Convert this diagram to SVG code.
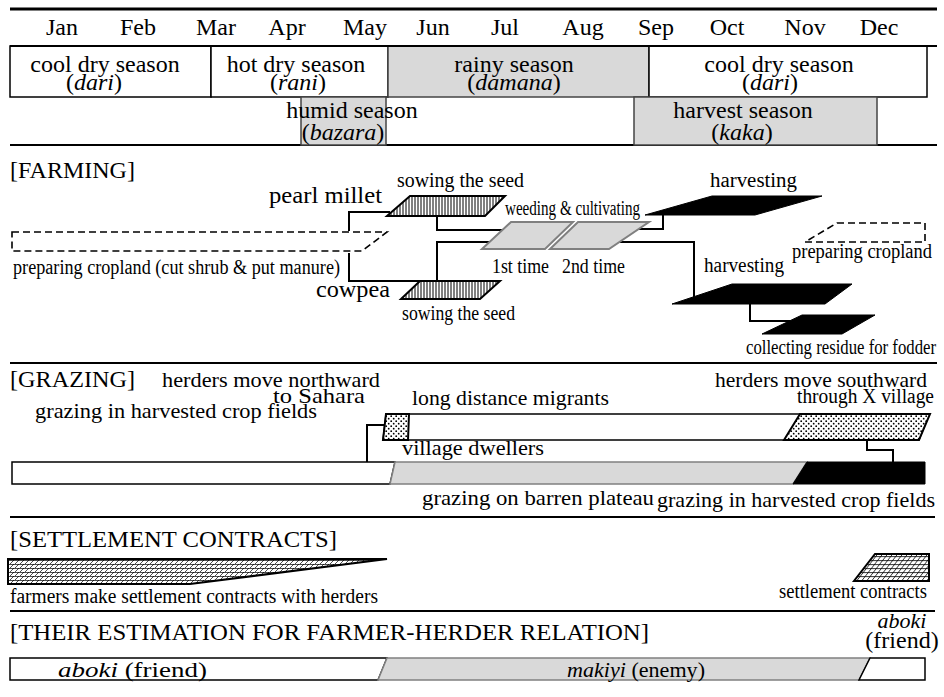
<svg xmlns="http://www.w3.org/2000/svg" width="944" height="697" viewBox="0 0 944 697">
<style>
text{font-family:"Liberation Serif","Times New Roman",serif;fill:#000}
.t24{font-size:24px}
.t22{font-size:22px}
.t20{font-size:20px}
.it{font-style:italic}
.mid{text-anchor:middle}
.box{fill:#fff;stroke:#000;stroke-width:1.5}
.gbox{fill:#d9d9d9;stroke:#444;stroke-width:1.5}
.sep{stroke:#000;stroke-width:2;fill:none}
.con{stroke:#000;stroke-width:2;fill:none}
.dash{fill:none;stroke:#000;stroke-width:1.6;stroke-dasharray:7 4}
.blk{fill:#000;stroke:#000;stroke-width:1}
.wg{fill:#d9d9d9;stroke:#808080;stroke-width:2}
</style>
<defs>
<pattern id="vhatch" width="3" height="10" patternUnits="userSpaceOnUse"><rect width="3" height="10" fill="#fff"/><line x1="1" y1="0" x2="1" y2="10" stroke="#000" stroke-width="1"/></pattern>
<pattern id="dots" width="5" height="5" patternUnits="userSpaceOnUse"><rect width="5" height="5" fill="#fff"/><circle cx="1.2" cy="1.2" r="0.9" fill="#000"/><circle cx="3.7" cy="3.7" r="0.9" fill="#000"/></pattern>
<pattern id="brick" width="5" height="4" patternUnits="userSpaceOnUse"><rect width="5" height="4" fill="#fff"/><line x1="0" y1="0.5" x2="5" y2="0.5" stroke="#000" stroke-width="0.7"/><line x1="-0.5" y1="4.5" x2="4.5" y2="-0.5" stroke="#000" stroke-width="0.7"/></pattern>
<pattern id="grid" width="5" height="4" patternUnits="userSpaceOnUse" patternTransform="skewX(-38)"><rect width="5" height="4" fill="#fff"/><line x1="0" y1="0.5" x2="5" y2="0.5" stroke="#000" stroke-width="0.8"/><line x1="0.5" y1="0" x2="0.5" y2="4" stroke="#000" stroke-width="0.8"/></pattern>
</defs>

<g id="frame">
<line class="sep" x1="10" y1="9" x2="937" y2="9" style="stroke-width:3"/>
<line class="sep" x1="10" y1="145" x2="937" y2="145"/>
<line class="sep" x1="10" y1="363" x2="937" y2="363"/>
<line class="sep" x1="10" y1="517" x2="935" y2="517"/>
<line class="sep" x1="10" y1="611" x2="935" y2="611"/>
</g>

<g id="months">
<text class="t24 mid" x="62" y="35">Jan</text>
<text class="t24 mid" x="138" y="35">Feb</text>
<text class="t24 mid" x="216" y="35">Mar</text>
<text class="t24 mid" x="287" y="35">Apr</text>
<text class="t24 mid" x="365" y="35">May</text>
<text class="t24 mid" x="433" y="35">Jun</text>
<text class="t24 mid" x="505" y="35">Jul</text>
<text class="t24 mid" x="583" y="35">Aug</text>
<text class="t24 mid" x="656" y="35">Sep</text>
<text class="t24 mid" x="727" y="35">Oct</text>
<text class="t24 mid" x="805" y="35">Nov</text>
<text class="t24 mid" x="879" y="35">Dec</text>
</g>

<g id="season-cool1">
<rect class="box" x="10" y="46" width="201" height="51"/>
<text class="t24 mid" x="105" y="72">cool dry season</text>
<text class="t24 mid" x="94" y="90">(<tspan class="it">dari</tspan>)</text>
</g>
<g id="season-hot">
<rect class="box" x="211" y="46" width="177" height="51"/>
<text class="t24 mid" x="296" y="72">hot dry season</text>
<text class="t24 mid" x="298" y="90">(<tspan class="it">rani</tspan>)</text>
</g>
<g id="season-rainy">
<rect class="gbox" x="388" y="46" width="261" height="51"/>
<text class="t24 mid" x="514" y="72">rainy season</text>
<text class="t24 mid" x="514" y="90">(<tspan class="it">damana</tspan>)</text>
</g>
<g id="season-cool2">
<rect class="box" x="649" y="46" width="278" height="51"/>
<text class="t24 mid" x="779" y="72">cool dry season</text>
<text class="t24 mid" x="770" y="90">(<tspan class="it">dari</tspan>)</text>
</g>
<g id="season-humid">
<rect class="gbox" x="301" y="97" width="85" height="48"/>
<text class="t24 mid" x="352" y="118">humid season</text>
<text class="t24 mid" x="343" y="140">(<tspan class="it">bazara</tspan>)</text>
</g>
<g id="season-harvest">
<rect class="gbox" x="634" y="97" width="243" height="48"/>
<text class="t24 mid" x="743" y="118">harvest season</text>
<text class="t24 mid" x="742" y="140">(<tspan class="it">kaka</tspan>)</text>
</g>
<line class="sep" x1="10" y1="46" x2="937" y2="46"/>

<g id="farming-title"><text class="t24" x="10" y="178">[FARMING]</text></g>

<g id="connectors">
<polyline class="con" points="349,231 349,212 390,212"/>
<polyline class="con" points="349,253 349,281 421,281"/>
<polyline class="con" points="437,216 437,230 503,230"/>
<polyline class="con" points="437,281 437,242 492,242"/>
<polyline class="con" points="637,229 663,229 663,215"/>
<polyline class="con" points="620,242 694,242 694,297"/>
<polyline class="con" points="750,304 750,321 790,321"/>
<polyline class="con" points="367,462 367,425 386,425"/>
<polyline class="con" points="867,440 867,450 893,450 893,462"/>
</g>

<g id="prep-left">
<polygon class="dash" points="12,232 387,232 362,251 12,251"/>
<text class="t20" x="13" y="274" textLength="327" lengthAdjust="spacingAndGlyphs">preparing  cropland (cut shrub &amp; put manure)</text>
</g>
<g id="pearl-millet">
<text class="t24" x="269" y="203" textLength="113" lengthAdjust="spacingAndGlyphs">pearl millet</text>
<polygon points="410,196 505,196 485,216 387,216" fill="url(#vhatch)" stroke="#000" stroke-width="2"/>
<text class="t20" x="397" y="187" textLength="127" lengthAdjust="spacingAndGlyphs">sowing the seed</text>
</g>
<g id="cowpea">
<text class="t24" x="316" y="297" textLength="74" lengthAdjust="spacingAndGlyphs">cowpea</text>
<polygon points="420,281 500,281 480,299 401,299" fill="url(#vhatch)" stroke="#000" stroke-width="2"/>
<text class="t20" x="402" y="320" textLength="113" lengthAdjust="spacingAndGlyphs">sowing the seed</text>
</g>
<g id="weeding">
<polygon class="wg" points="511,222 573,222 545,249 482,249"/>
<polygon class="wg" points="578,222 649,222 609,249 550,249"/>
<text class="t20" x="505" y="215" textLength="135" lengthAdjust="spacingAndGlyphs">weeding &amp; cultivating</text>
<text class="t20" x="492" y="273" textLength="57" lengthAdjust="spacingAndGlyphs">1st time</text>
<text class="t20" x="562" y="273" textLength="63" lengthAdjust="spacingAndGlyphs">2nd time</text>
</g>
<g id="harvest-millet">
<polygon class="blk" points="712,196 822,196 755,215 645,215"/>
<text class="t20" x="710" y="187" textLength="87" lengthAdjust="spacingAndGlyphs">harvesting</text>
</g>
<g id="harvest-cowpea">
<polygon class="blk" points="732,284 852,284 825,304 672,304"/>
<text class="t20" x="704" y="272" textLength="80" lengthAdjust="spacingAndGlyphs">harvesting</text>
</g>
<g id="residue">
<polygon class="blk" points="802,315 875,315 842,334 762,334"/>
<text class="t20" x="746" y="354" textLength="190" lengthAdjust="spacingAndGlyphs">collecting residue for fodder</text>
</g>
<g id="prep-right">
<polygon class="dash" points="837,223 925,223 925,242 805,242"/>
<text class="t20" x="792" y="258" textLength="140" lengthAdjust="spacingAndGlyphs">preparing  cropland</text>
</g>

<g id="grazing-title"><text class="t24" x="10" y="387" textLength="125" lengthAdjust="spacingAndGlyphs">[GRAZING]</text></g>
<g id="north-label">
<text class="t22" x="162" y="387" textLength="218" lengthAdjust="spacingAndGlyphs">herders move northward</text>
<text class="t22" x="273" y="403" textLength="92" lengthAdjust="spacingAndGlyphs">to Sahara</text>
<text class="t22" x="35" y="418" textLength="282" lengthAdjust="spacingAndGlyphs">grazing in harvested crop fields</text>
</g>
<g id="long-distance">
<polygon class="box" points="386,414 929,414 919,440 383,440"/>
<polygon points="386,414 409,414 408,440 383,440" fill="url(#dots)" stroke="#000" stroke-width="2"/>
<polygon points="800,414 930,414 919,440 784,440" fill="url(#dots)" stroke="#000" stroke-width="2"/>
<text class="t22" x="412" y="405" textLength="197" lengthAdjust="spacingAndGlyphs">long distance migrants</text>
<text class="t22" x="715" y="387" textLength="212" lengthAdjust="spacingAndGlyphs">herders move southward</text>
<text class="t20" x="797" y="403" textLength="137" lengthAdjust="spacingAndGlyphs">through X village</text>
</g>
<g id="village">
<polygon class="box" points="12,462 395,462 390,484 12,484"/>
<polygon points="395,462 807,462 793,484 390,484" fill="#d9d9d9" stroke="#808080" stroke-width="1.5"/>
<polygon class="blk" points="807,462 925,462 925,484 793,484"/>
<text class="t22" x="402" y="455" textLength="142" lengthAdjust="spacingAndGlyphs">village dwellers</text>
<text class="t22" x="422" y="505" textLength="232" lengthAdjust="spacingAndGlyphs">grazing on barren plateau</text>
<text class="t22" x="657" y="507" textLength="278" lengthAdjust="spacingAndGlyphs">grazing in harvested crop fields</text>
</g>

<g id="settlement-title"><text class="t24" x="10" y="547" textLength="327" lengthAdjust="spacingAndGlyphs">[SETTLEMENT CONTRACTS]</text></g>
<g id="settlement-left">
<polygon points="8,559 387,559 190,584 8,584" fill="url(#brick)" stroke="#000" stroke-width="2"/>
<text class="t20" x="10" y="603" textLength="368" lengthAdjust="spacingAndGlyphs">farmers make settlement contracts with herders</text>
</g>
<g id="settlement-right">
<polygon points="875,554 929,554 929,581 854,581" fill="url(#grid)" stroke="#000" stroke-width="2"/>
<text class="t20" x="779" y="598" textLength="148" lengthAdjust="spacingAndGlyphs">settlement contracts</text>
</g>

<g id="estimation-title"><text class="t24" x="10" y="640" textLength="639" lengthAdjust="spacingAndGlyphs">[THEIR ESTIMATION FOR FARMER-HERDER RELATION]</text></g>
<g id="relation">
<polygon class="box" points="10,658 387,658 378,680 10,680"/>
<polygon points="387,658 870,658 859,680 378,680" fill="#d9d9d9" stroke="#808080" stroke-width="1.5"/>
<polygon class="box" points="870,658 925,658 925,680 859,680"/>
<text class="t22" x="58" y="677" textLength="149" lengthAdjust="spacingAndGlyphs"><tspan class="it">aboki</tspan> (friend)</text>
<text class="t22" x="567" y="677" textLength="138" lengthAdjust="spacingAndGlyphs"><tspan class="it">makiyi</tspan> (enemy)</text>
<text class="t22 it mid" x="902" y="628">aboki</text>
<text class="t24 mid" x="902" y="648">(friend)</text>
</g>
</svg>
